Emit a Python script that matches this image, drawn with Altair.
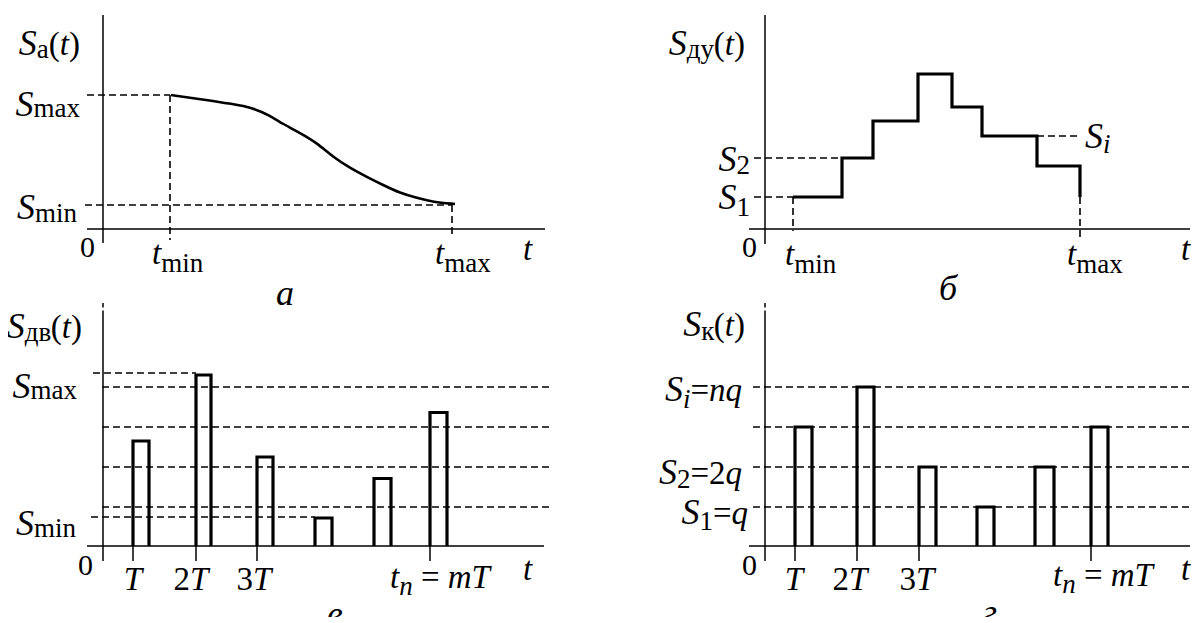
import altair as alt
import pandas as pd

FONT = "Liberation Serif"

# ------------------------------------------------------------------
# DATA (schematic units: 1 unit = 1 px, origin at the axes crossing, S upward)
# ------------------------------------------------------------------
# panel а : analogue signal S_a(t)
A_CURVE_T = [68, 97, 130, 150, 166, 180, 197, 214, 230, 247, 264, 280, 297, 314, 330, 352]
A_CURVE_S = [134, 130, 125, 121, 114, 105, 96, 86, 72, 61, 52, 44, 36, 31, 27, 25]
A_T_MIN, A_T_MAX = 67, 349
A_S_MAX, A_S_MIN = 134, 24

# panel б : level-quantised signal S_ду(t)
B_STEP_T = [28, 77, 108, 153, 187, 217, 272]
B_STEP_S = [32, 71, 108, 155, 122, 93, 63]
B_T_MIN, B_T_MAX = 28, 315
B_S1, B_S2, B_SI = 32, 71, 93

# panel в : time-sampled signal S_дв(t)
C_BAR_T0 = [30, 93, 154, 212, 271, 327]
C_BAR_T1 = [46, 108, 170, 229, 288, 344]
C_BAR_S = [105, 171, 89, 28, 67.5, 133.5]
C_LEVELS = [39, 79, 119, 159]
C_S_MAX, C_S_MIN = 173, 29
C_TICKS = [30, 93, 154, 327]

# panel г : digital signal S_к(t)
D_BAR_T0 = [30, 92, 154, 212, 270, 326]
D_BAR_T1 = [47, 109, 171, 229, 289, 343]
D_BAR_S = [119, 159, 79, 39, 79, 119]
D_LEVELS = [39, 79, 119, 159]
D_TICKS = [30, 92, 154, 326]

# ------------------------------------------------------------------
# layout
# ------------------------------------------------------------------
LEFT_W, RIGHT_W = 592, 591
TOP_H, BOTTOM_H = 300, 307
ORIGIN = {"a": (95, 221), "b": (165, 221), "c": (95, 236), "d": (165, 236)}

RM_W = {"a": .444, "m": .778, "x": .5, "i": .278, "n": .5, "(": .333, ")": .333,
        "0": .5, "1": .5, "2": .5, "3": .5, "=": .564, " ": .25,
        "д": .5, "у": .5, "в": .47, "к": .47}
IT_W = {"S": .5, "t": .278, "T": .556, "n": .5, "m": .722, "q": .5, "i": .278,
        "а": .5, "б": .5, "в": .44, "г": .39, " ": .25}

S, SUB, MAIN, ZERO, LETTER = 36, 27, 33, 30, 36


def text_rows(specs):
    rows = []
    for x, y, align, pieces in specs:
        widths = [sum((IT_W if it else RM_W).get(ch, 0.5) for ch in txt) * size
                  for txt, it, size, drop in pieces]
        total = sum(widths)
        if align == "right":
            cx = x - total
        elif align == "center":
            cx = x - total / 2
        else:
            cx = x
        for (txt, it, size, drop), w in zip(pieces, widths):
            if txt.strip():
                rows.append({"x": cx, "y": y - drop, "text": txt, "size": size, "italic": it})
            cx += w
    return pd.DataFrame(rows)


def seg(rows):
    return pd.DataFrame(rows, columns=["x", "y", "x2", "y2"])


def bar_paths(t0, t1, s):
    rows = []
    for i, (a, b, h) in enumerate(zip(t0, t1, s)):
        for o, (x, y) in enumerate([(a, 0), (a, h), (b, h), (b, 0)]):
            rows.append({"id": i, "o": o, "x": x, "y": y})
    return pd.DataFrame(rows)


def step_path(ts, ss, t_end, s_end):
    pts = []
    for i, (t, s) in enumerate(zip(ts, ss)):
        nxt = ts[i + 1] if i + 1 < len(ts) else t_end
        pts += [(t, s), (nxt, s)]
    pts.append((t_end, s_end))
    return pd.DataFrame([{"id": 0, "o": o, "x": x, "y": y} for o, (x, y) in enumerate(pts)])


def sub_label(sub, drop, tail=None):
    p = [("S", 1, S, 0), (sub, 0, SUB, drop)]
    if tail:
        p += tail
    return p


PAREN_T = [("(", 0, MAIN, 0), ("t", 1, MAIN, 0), (")", 0, MAIN, 0)]
TN_MT = [("t", 1, MAIN, 0), ("n", 1, SUB, 7), (" ", 0, MAIN, 0), ("=", 0, MAIN, 0),
         (" ", 0, MAIN, 0), ("mT", 1, MAIN, 0)]


def panel(key, W, H, solid, dashed, texts, paths=None, curve=None):
    ox, oy = ORIGIN[key]
    xs = alt.Scale(domain=[-ox, W - ox], nice=False, zero=False)
    ys = alt.Scale(domain=[oy - H, oy], nice=False, zero=False)

    def X():
        return alt.X("x:Q", scale=xs, axis=None)

    def Y():
        return alt.Y("y:Q", scale=ys, axis=None)

    layers = [
        alt.Chart(solid).mark_rule(color="black", strokeWidth=1.5).encode(
            x=X(), y=Y(), x2="x2:Q", y2="y2:Q"),
        alt.Chart(dashed).mark_rule(color="black", strokeWidth=1.6, strokeDash=[7, 4]).encode(
            x=X(), y=Y(), x2="x2:Q", y2="y2:Q"),
    ]
    if paths is not None:
        layers.append(alt.Chart(paths).mark_line(
            color="black", strokeWidth=3.2, strokeJoin="miter", strokeCap="butt").encode(
            x=X(), y=Y(), detail="id:N", order="o:Q"))
    if curve is not None:
        layers.append(alt.Chart(curve).mark_line(
            color="black", strokeWidth=2.6, interpolate="basis").encode(
            x=X(), y=Y(), order="o:Q"))
    for it in (1, 0):
        df = texts[texts["italic"] == it]
        if len(df):
            layers.append(alt.Chart(df).mark_text(
                align="left", baseline="alphabetic", font=FONT,
                fontStyle="italic" if it else "normal", color="black", clip=True).encode(
                x=X(), y=Y(), text="text:N", size=alt.Size("size:Q", scale=None)))
    return alt.layer(*layers).properties(width=W, height=H)


# ---------------- panel а ----------------
a_solid = seg([(0, -14, 0, 214), (-16, 0, 442, 0), (0, -74, 0, -78.5)])
a_dash = seg([(-16, A_S_MAX, A_T_MIN, A_S_MAX), (A_T_MIN, A_S_MAX, A_T_MIN, -11),
              (-18, A_S_MIN, A_T_MAX, A_S_MIN), (A_T_MAX, A_S_MIN, A_T_MAX, -8)])
a_curve = pd.DataFrame({"x": A_CURVE_T, "y": A_CURVE_S, "o": range(len(A_CURVE_T))})
a_text = text_rows([
    (-23, 174, "right", sub_label("a", 3, PAREN_T)),
    (-23, 113, "right", sub_label("max", 1)),
    (-26, 10, "right", sub_label("min", 3)),
    (-8, -28, "right", [("0", 0, ZERO, 0)]),
    (49, -35, "left", [("t", 1, MAIN, 0), ("min", 0, SUB, 8)]),
    (332, -35, "left", [("t", 1, MAIN, 0), ("max", 0, SUB, 8)]),
    (420, -31, "left", [("t", 1, MAIN, 0)]),
    (182, -76, "center", [("а", 1, LETTER, 0)]),
])
pa = panel("a", LEFT_W, TOP_H, a_solid, a_dash, a_text, curve=a_curve)

# ---------------- panel б ----------------
b_solid = seg([(0, -15, 0, 214), (-16, 0, 425, 0), (0, -74, 0, -78.5)])
b_dash = seg([(-11, B_S1, B_T_MIN, B_S1), (B_T_MIN, B_S1, B_T_MIN, -2),
              (-11, B_S2, B_STEP_T[1], B_S2), (B_STEP_T[-1], B_SI, B_T_MAX, B_SI),
              (B_T_MAX, B_S1, B_T_MAX, -10)])
b_path = step_path(B_STEP_T, B_STEP_S, B_T_MAX, B_S1)
b_text = text_rows([
    (-20, 174, "right", sub_label("ду", 3, PAREN_T)),
    (-15, 58, "right", sub_label("2", 3)),
    (-15, 20, "right", sub_label("1", 7)),
    (-8, -28, "right", [("0", 0, ZERO, 0)]),
    (20, -36, "left", [("t", 1, MAIN, 0), ("min", 0, SUB, 8)]),
    (320, 81, "left", [("S", 1, S, 0), ("i", 1, SUB, 5)]),
    (302, -36, "left", [("t", 1, MAIN, 0), ("max", 0, SUB, 8)]),
    (416, -31, "left", [("t", 1, MAIN, 0)]),
    (183, -71, "center", [("б", 1, LETTER, 0)]),
])
pb = panel("b", RIGHT_W, TOP_H, b_solid, b_dash, b_text, paths=b_path)

# ---------------- panel в ----------------
c_solid = seg([(0, 235.5, 0, -15), (-16, 0, 441, 0)] + [(t, 0, t, -15) for t in C_TICKS])
c_dash = seg([(-10, C_S_MAX, C_BAR_T0[1], C_S_MAX)] + [(-1, L, 450, L) for L in C_LEVELS]
             + [(-12, C_S_MIN, C_BAR_T0[3], C_S_MIN)])
c_path = bar_paths(C_BAR_T0, C_BAR_T1, C_BAR_S)
c_text = text_rows([
    (-21, 208, "right", sub_label("дв", 3, PAREN_T)),
    (-26, 148, "right", sub_label("max", 1)),
    (-27, 11, "right", sub_label("min", 2)),
    (-10, -29, "right", [("0", 0, ZERO, 0)]),
    (30, -44, "center", [("T", 1, MAIN, 0)]),
    (88, -44, "center", [("2", 0, MAIN, 0), ("T", 1, MAIN, 0)]),
    (151, -44, "center", [("3", 0, MAIN, 0), ("T", 1, MAIN, 0)]),
    (287, -42, "left", TN_MT),
    (420, -34, "left", [("t", 1, MAIN, 0)]),
    (232, -80, "center", [("в", 1, LETTER, 0)]),
])
pc = panel("c", LEFT_W, BOTTOM_H, c_solid, c_dash, c_text, paths=c_path)

# ---------------- panel г ----------------
d_solid = seg([(0, 235.5, 0, -15), (-16, 0, 425, 0)] + [(t, 0, t, -15) for t in D_TICKS])
d_dash = seg([(-12, L, 425, L) for L in D_LEVELS])
d_path = bar_paths(D_BAR_T0, D_BAR_T1, D_BAR_S)
d_text = text_rows([
    (-20, 210, "right", sub_label("к", 4, PAREN_T)),
    (-23, 145, "right", [("S", 1, S, 0), ("i", 1, SUB, 7), ("=", 0, MAIN, 0), ("nq", 1, MAIN, 0)]),
    (-23, 62, "right", [("S", 1, S, 0), ("2", 0, SUB, 4), ("=", 0, MAIN, 0), ("2", 0, MAIN, 0),
                        ("q", 1, MAIN, 0)]),
    (-17, 22, "right", [("S", 1, S, 0), ("1", 0, SUB, 6), ("=", 0, MAIN, 0), ("q", 1, MAIN, 0)]),
    (-8, -29, "right", [("0", 0, ZERO, 0)]),
    (29, -44, "center", [("T", 1, MAIN, 0)]),
    (85, -44, "center", [("2", 0, MAIN, 0), ("T", 1, MAIN, 0)]),
    (152, -44, "center", [("3", 0, MAIN, 0), ("T", 1, MAIN, 0)]),
    (288, -40, "left", TN_MT),
    (416, -34, "left", [("t", 1, MAIN, 0)]),
    (225, -78, "center", [("г", 1, LETTER, 0)]),
])
pd_ = panel("d", RIGHT_W, BOTTOM_H, d_solid, d_dash, d_text, paths=d_path)

top = alt.hconcat(pa, pb, spacing=0, bounds="flush")
bottom = alt.hconcat(pc, pd_, spacing=0, bounds="flush")
chart = (
    alt.vconcat(top, bottom, spacing=0)
    .properties(padding=0, background="white")
    .configure_view(stroke=None)
)

chart.save("out.html", embed_options={"renderer": "svg", "actions": False})
